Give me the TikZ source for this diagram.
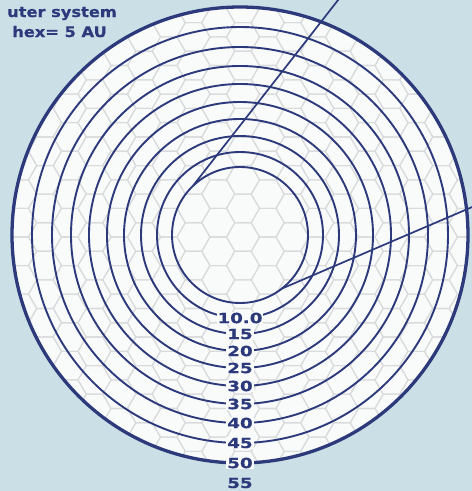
\documentclass[tikz,border=0pt]{standalone}
\usepackage{fontspec}
\newfontfamily\titlefont[FakeStretch=1.12,FakeBold=0.6]{DejaVu Sans}
\newfontfamily\lblfont[FakeStretch=1.3,FakeBold=0.5]{DejaVu Sans}
\definecolor{bgblue}{HTML}{CBDFE6}
\definecolor{navy}{HTML}{2C3A7C}
\definecolor{hexgray}{HTML}{D9DADC}
\definecolor{paper}{HTML}{F9FAFA}
\tikzset{
  orbit/.style={draw=navy, line width=1.9pt},
  rim/.style={draw=navy, line width=3.3pt},
  ray/.style={draw=navy, line width=1.7pt},
  auLabel/.style={font=\lblfont\bfseries\fontsize{14}{14}\selectfont, text=navy, fill=paper, inner sep=1.0pt},
  titleText/.style={font=\titlefont\bfseries\fontsize{14.5}{15}\selectfont, text=navy, inner sep=0pt, anchor=base east},
  hexline/.style={draw=hexgray, line width=1.1pt}
}
\begin{document}
\begin{tikzpicture}[x=1pt,y=-1pt]
\useasboundingbox (0,0) rectangle (472,491);
\clip (0,0) rectangle (472,491);
\fill[bgblue] (0,0) rectangle (472,491);
\coordinate (c) at (240,235);
% paper disc
\fill[paper] (c) circle[radius=228pt];
% hex grid
\begin{scope}
\clip (c) circle[radius=228pt];
\def\s{16.5}
\def\h{28.58}
\foreach \i in {-11,...,11}{
  \foreach \j in {-10,...,10}{
    \pgfmathsetmacro\off{mod(\i+20,2)}
    \pgfmathsetmacro\cx{243+1.5*\s*\i}
    \pgfmathsetmacro\cy{237+\h*(\j+0.5*\off)}
    \draw[hexline] (\cx+\s,\cy) -- (\cx+\s/2,\cy+\h/2) -- (\cx-\s/2,\cy+\h/2)
      -- (\cx-\s,\cy) -- (\cx-\s/2,\cy-\h/2) -- (\cx+\s/2,\cy-\h/2) -- cycle;
  }
}
\end{scope}
% rays
\coordinate (r1a) at (192.9,185.9);
\coordinate (r1b) at (342,-5);
\coordinate (r2a) at (281.9,288.6);
\coordinate (r2b) at (478,204.5);
\draw[ray] (r1a) -- (r1b);
\draw[ray] (r2a) -- (r2b);
% orbits
\foreach \r in {68,83,99,116,133,151,169,188,208}{
  \draw[orbit] (c) circle[radius=\r pt];
}
\draw[rim] (c) circle[radius=228pt];
% labels
\foreach \r/\t [count=\k] in {83/10.0,99/15,116/20,133/25,151/30,169/35,188/40,208/45,228/50}{
  \node[auLabel] (lab\k) at (240,235+\r) {\t};
}
\node[auLabel, fill=none] (lab10) at (240,483) {55};
% title
\node[titleText] (title1) at (117,17) {uter system};
\node[titleText] (title2) at (107,37) {hex= 5 AU};
\end{tikzpicture}
\end{document}
